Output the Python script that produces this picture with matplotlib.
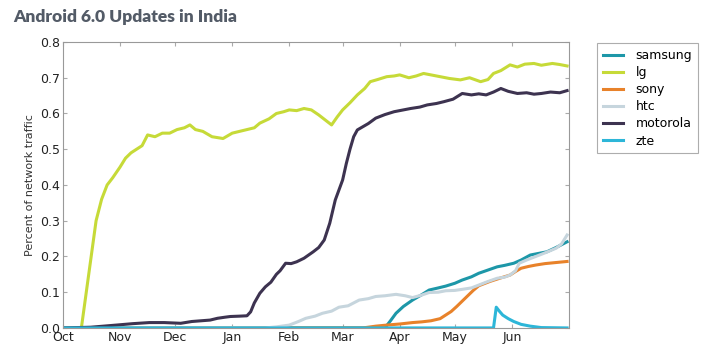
import matplotlib
matplotlib.use("Agg")
import matplotlib.pyplot as plt

# days since 1 Oct 2015
month_days = [0, 31, 61, 92, 123, 152, 183, 213, 244]
month_labels = ["Oct", "Nov", "Dec", "Jan", "Feb", "Mar", "Apr", "May", "Jun"]

lg_days = [0, 10, 14, 18, 21, 24, 27, 31, 34, 37, 40, 43, 46, 50, 54, 58, 62, 66, 69, 72,
           76, 81, 87, 92, 96, 100, 104, 107, 112, 116, 120, 123, 127, 131, 135, 139, 143, 146, 149, 152,
           156, 160, 164, 167, 171, 176, 180, 183, 188, 192, 196, 200, 205, 210, 216, 221, 227, 231, 234, 238,
           243, 247, 251, 256, 260, 266, 270, 274]
lg_vals = [0, 0, 0.15, 0.30, 0.36, 0.40, 0.42, 0.45, 0.475, 0.49, 0.50, 0.51, 0.54, 0.535, 0.545, 0.545, 0.555, 0.56, 0.568, 0.555,
           0.55, 0.535, 0.53, 0.545, 0.55, 0.555, 0.56, 0.573, 0.585, 0.60, 0.605, 0.61, 0.608, 0.614, 0.61, 0.596, 0.58, 0.568, 0.59, 0.61,
           0.63, 0.652, 0.67, 0.689, 0.695, 0.703, 0.705, 0.708, 0.70, 0.705, 0.712, 0.708, 0.703, 0.698, 0.694, 0.70, 0.689, 0.695, 0.712, 0.72,
           0.736, 0.73, 0.738, 0.74, 0.735, 0.74, 0.737, 0.733]

moto_days = [0, 15, 22, 29, 38, 47, 55, 64, 70, 75, 80, 84, 88, 91, 96, 100, 102, 104, 107, 110,
             113, 116, 118, 121, 124, 127, 131, 136, 139, 142, 145, 148, 150, 152, 154, 156, 158, 160, 163, 166,
             170, 175, 180, 185, 189, 194, 198, 203, 207, 212, 217, 222, 226, 230, 234, 238, 242, 247, 252, 256,
             260, 265, 270, 274]
moto_vals = [0, 0.002, 0.005, 0.008, 0.012, 0.015, 0.015, 0.013, 0.018, 0.02, 0.022, 0.027, 0.03, 0.032, 0.033, 0.034, 0.045, 0.07, 0.097, 0.115,
             0.128, 0.15, 0.16, 0.181, 0.18, 0.185, 0.195, 0.213, 0.225, 0.246, 0.293, 0.358, 0.386, 0.414, 0.46, 0.50, 0.535, 0.554, 0.563, 0.572,
             0.587, 0.597, 0.605, 0.61, 0.614, 0.618, 0.624, 0.628, 0.633, 0.64, 0.656, 0.652, 0.655, 0.652, 0.66, 0.67, 0.662, 0.656, 0.658, 0.654,
             0.656, 0.66, 0.658, 0.664]

htc_days = [0, 110, 116, 123, 128, 132, 137, 141, 146, 150, 155, 161, 166, 170, 175, 181, 186, 190, 195, 199,
            204, 208, 213, 217, 222, 226, 231, 236, 240, 243, 246, 248, 252, 257, 262, 268, 271, 274]
htc_vals = [0, 0, 0.003, 0.008, 0.018, 0.027, 0.033, 0.041, 0.047, 0.058, 0.062, 0.078, 0.082, 0.088, 0.09, 0.094, 0.09, 0.085, 0.092, 0.099,
            0.1, 0.104, 0.105, 0.108, 0.112, 0.12, 0.13, 0.139, 0.142, 0.148, 0.16, 0.181, 0.19, 0.2, 0.21, 0.223, 0.235, 0.26]

samsung_days = [0, 175, 178, 181, 185, 190, 195, 199, 204, 208, 213, 217, 222, 226, 231, 236, 240, 245, 249, 254,
                258, 263, 268, 274]
samsung_vals = [0, 0.0, 0.02, 0.041, 0.06, 0.078, 0.093, 0.106, 0.112, 0.117, 0.125, 0.134, 0.143, 0.153, 0.162, 0.171, 0.175, 0.181, 0.19, 0.204,
                0.208, 0.213, 0.225, 0.241]

sony_days = [0, 163, 170, 176, 183, 190, 195, 200, 205, 208, 211, 214, 217, 220, 223, 226, 232, 238, 243, 246,
             249, 253, 257, 262, 268, 274]
sony_vals = [0, 0, 0.005, 0.008, 0.011, 0.015, 0.017, 0.02, 0.026, 0.036, 0.046, 0.06, 0.075, 0.09, 0.105, 0.118, 0.13, 0.14, 0.148, 0.158,
             0.167, 0.172, 0.176, 0.18, 0.183, 0.186]

zte_days = [0, 234, 235.5, 237, 239, 242, 245, 249, 254, 260, 274]
zte_vals = [0, 0, 0.058, 0.048, 0.036, 0.026, 0.018, 0.01, 0.005, 0.001, 0]

series = [
    ("samsung", samsung_days, samsung_vals, "#1d97a8"),
    ("lg", lg_days, lg_vals, "#c6da38"),
    ("sony", sony_days, sony_vals, "#e8822a"),
    ("htc", htc_days, htc_vals, "#c6d5dd"),
    ("motorola", moto_days, moto_vals, "#3d3350"),
    ("zte", zte_days, zte_vals, "#2db6d8"),
]

fig = plt.figure(figsize=(7.28, 3.53), dpi=100)
ax = fig.add_axes([0.0865, 0.071, 0.695, 0.81])

for name, d, v, c in series:
    ax.plot(d, v, color=c, lw=2.2, label=name)

ax.set_xlim(0, 275)
ax.set_ylim(0, 0.8)
ax.set_xticks(month_days)
ax.set_xticklabels(month_labels)
ax.set_yticks([i / 10 for i in range(9)])
ax.set_yticklabels([f"{i / 10:.1f}" for i in range(9)])
ax.tick_params(direction="in", top=True, right=True, labelsize=9, length=3,
               color="#aaaaaa", labelcolor="#222222", pad=2)
for s in ax.spines.values():
    s.set_color("#999999")
    s.set_linewidth(0.8)
ax.set_ylabel("Percent of network traffic", fontsize=8, color="#333333", labelpad=4)

fig.text(0.018, 0.953, "Android 6.0 Updates in India", fontsize=12.5, fontweight="heavy",
         color="#535b67", family="Lato", va="center")

leg = fig.legend(loc="upper left", bbox_to_anchor=(0.812, 0.895), fontsize=9,
                 fancybox=False, edgecolor="#999999", handlelength=1.6,
                 borderpad=0.45, labelspacing=0.33, handletextpad=1.0)
leg.get_frame().set_linewidth(0.8)

fig.savefig("out.png", dpi=100, facecolor="white")
